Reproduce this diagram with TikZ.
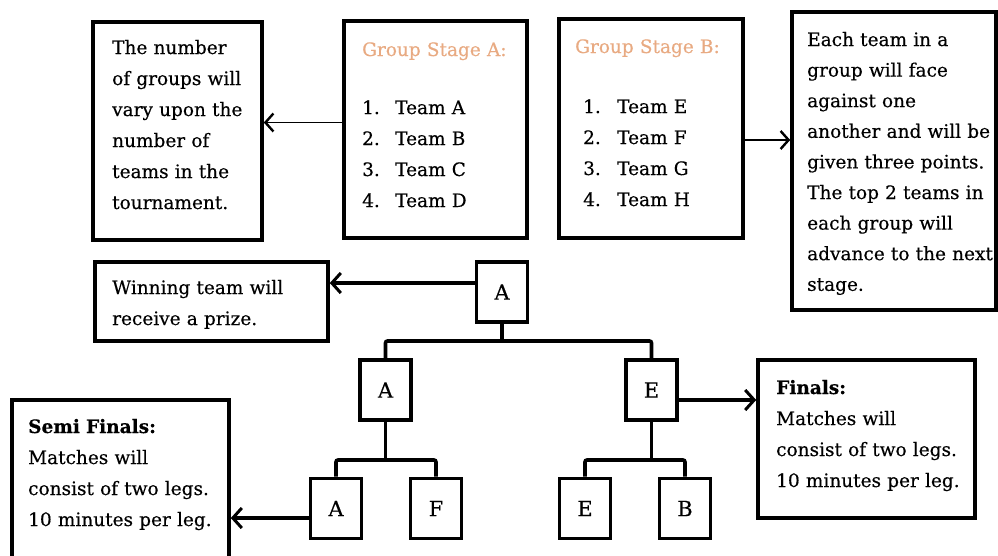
\documentclass[tikz,border=0pt]{standalone}
\usepackage{fontspec}
\setmainfont{DejaVu Serif}[FakeBold=0.4]
\usetikzlibrary{arrows.meta}
\definecolor{titlecol}{RGB}{232,170,130}
\tikzset{
  box/.style={draw, line width=3.6pt, inner sep=0pt},
  tbox/.style={box, minimum width=51pt, minimum height=60pt, font=\fontsize{21}{31}\selectfont},
  txt/.style={anchor=base west, inner sep=0pt, align=left, font=\fontsize{18.5}{31}\selectfont},
  bracket/.style={line width=3.6pt, rounded corners=2pt},
  thickarrow/.style={line width=3.4pt, -{Straight Barb[length=9pt,width=20pt,line width=3pt]}},
  thinarrow/.style={line width=1.6pt, -{Straight Barb[length=8pt,width=18pt,line width=2.4pt]}},
}
\begin{document}
\begin{tikzpicture}[x=1pt,y=-1pt]
\useasboundingbox (0,0) rectangle (998,555);
% boxes
\node[box, minimum width=169pt, minimum height=218pt] (B1) at (177.5,131) {};
\node[box, minimum width=183pt, minimum height=217pt] (GA) at (435.5,129.5) {};
\node[box, minimum width=184pt, minimum height=219pt] (GB) at (651,128.5) {};
\node[box, minimum width=204pt, minimum height=298pt] (RB) at (894,161) {};
\node[box, minimum width=233pt, minimum height=79pt] (WIN) at (211.5,301.5) {};
\node[box, minimum width=217pt, minimum height=158pt] (FIN) at (866.5,439) {};
\node[box, minimum width=217pt, minimum height=165pt] (SEMI) at (120.5,482.5) {};
% team boxes
\node[tbox] (TA) at (502,292) {A};
\node[tbox] (MA) at (385.5,390) {A};
\node[tbox] (ME) at (651.5,390) {E};
\node[tbox] (BA) at (336,508.5) {A};
\node[tbox] (BF) at (436,508.5) {F};
\node[tbox] (BE) at (585,508.5) {E};
\node[tbox] (BB) at (685,508.5) {B};
% texts
\node[txt, text width=160pt] (t1) at (112,54) {The number\\of groups will\\vary upon the\\number of\\teams in the\\tournament.};
\node[txt, text width=160pt, text=titlecol] (tga) at (362,56) {Group Stage A:};
\node[txt, text width=160pt] (lga) at (362,114) {\makebox[33pt][l]{1.}Team A\\\makebox[33pt][l]{2.}Team B\\\makebox[33pt][l]{3.}Team C\\\makebox[33pt][l]{4.}Team D};
\node[txt, text width=160pt, text=titlecol] (tgb) at (575,53) {Group Stage B:};
\node[txt, text width=160pt] (lgb) at (583,113) {\makebox[34pt][l]{1.}Team E\\\makebox[34pt][l]{2.}Team F\\\makebox[34pt][l]{3.}Team G\\\makebox[34pt][l]{4.}Team H};
\node[txt, text width=190pt, font=\fontsize{18.5}{30.6}\selectfont] (trb) at (807,46) {Each team in a\\group will face\\against one\\another and will be\\given three points.\\The top 2 teams in\\each group will\\advance to the next\\stage.};
\node[txt, text width=210pt] (twin) at (112,294) {Winning team will\\receive a prize.};
\node[txt, text width=200pt] (tsemi) at (28,433) {\textbf{Semi Finals:}\\Matches will\\consist of two legs.\\10 minutes per leg.};
\node[txt, text width=200pt] (tfin) at (776,394) {\textbf{Finals:}\\Matches will\\consist of two legs.\\10 minutes per leg.};
% arrows
\draw[thinarrow] ([yshift=7pt]GA.west) -- ([yshift=7pt]GA.west -| B1.east);
\draw[thinarrow] ([yshift=-11.5pt]GB.east) -- ([yshift=-11.5pt]GB.east -| RB.west);
\draw[thickarrow] ([yshift=9pt]TA.west) -- ([yshift=9pt]TA.west -| WIN.east);
\draw[thickarrow] ([yshift=-10pt]ME.east) -- ([yshift=-10pt]ME.east -| FIN.west);
\draw[thickarrow] ([yshift=-9.5pt]BA.west) -- ([yshift=-9.5pt]BA.west -| SEMI.east);
% brackets
\coordinate (j1) at (502,341);
\coordinate (j2) at (385.5,460);
\coordinate (j3) at (651.5,460);
\draw[bracket] (TA.south) -- (j1);
\draw[bracket] (MA.north) |- (j1) -| (ME.north);
\draw[bracket] (MA.south) -- (j2);
\draw[bracket] (BA.north) |- (j2) -| (BF.north);
\draw[bracket] (ME.south) -- (j3);
\draw[bracket] (BE.north) |- (j3) -| (BB.north);
\end{tikzpicture}
\end{document}
